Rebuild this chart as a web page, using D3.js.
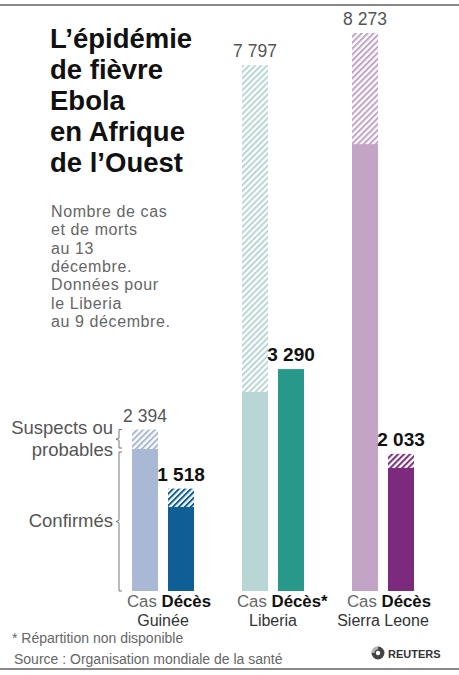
<!DOCTYPE html>
<html>
<head>
	<meta charset="utf-8">
	<title>Ebola en Afrique de l'Ouest</title>
	<style>
		body {
			margin: 0;
			background: white;
			font-family: 'Liberation Sans', Arial, sans-serif;
		}
		svg {
			display: block;
		}
	</style>
</head>
<body>
	<svg width='459' height='675'></svg>
<script src='https://d3js.org/d3.v7.min.js'></script>
<script>

	// data
	let countries = ['Guinée', 'Liberia', 'Sierra Leone']
	let casTotal = [2394, 7797, 8273]
	let casConfirmes = [2105, 2950, 6625]
	let decesTotal = [1518, 3290, 2033]
	let decesConfirmes = [1245, null, 1824]   // null = répartition non disponible
	let decesLabels = ['Décès', 'Décès*', 'Décès']

	let colorsCas = ['#a9b8d4', '#b8d6d4', '#c3a3c6']
	let colorsDeces = ['#0f5f94', '#27988a', '#7b2a7d']

	let width = 459
	let height = 675
	let baseline = 591

	let fr = d3.formatLocale({ decimal: ',', thousands: '\u00a0', grouping: [3], currency: ['', ' €'] })
	let fmt = fr.format(',d')

	let svg = d3.select('svg')

	// frame lines
	svg.append('rect').attr('x', 0).attr('y', 4).attr('width', width).attr('height', 2).style('fill', '#8a8a8a')
	svg.append('rect').attr('x', 0).attr('y', 668).attr('width', width).attr('height', 2).style('fill', '#8a8a8a')

	// hatch patterns
	let defs = svg.append('defs')
	let allColors = colorsCas.concat(colorsDeces)
	allColors.forEach((c, i) => {
		let p = defs.append('pattern')
			.attr('id', 'hatch' + i)
			.attr('patternUnits', 'userSpaceOnUse')
			.attr('width', 4.2)
			.attr('height', 4.2)
			.attr('patternTransform', 'rotate(45)')
		p.append('rect').attr('width', 4.2).attr('height', 4.2).style('fill', 'white')
		p.append('rect').attr('width', 2).attr('height', 4.2).style('fill', c)
	})

	// scales
	let y = d3.scaleLinear()
		.domain([0, d3.max(casTotal)])
		.range([baseline, 33])

	let x = d3.scaleBand()
		.domain(countries)
		.range([132, 462])

	let xInner = d3.scaleBand()
		.domain(['cas', 'deces'])
		.range([0, 62])
		.paddingInner(10 / 36)

	let bw = xInner.bandwidth()

	// title
	let title = ['L\u2019épidémie', 'de fièvre', 'Ebola', 'en Afrique', 'de l\u2019Ouest']
	svg.append('text')
		.attr('x', 50)
		.attr('y', 48)
		.style('font-size', '27.5px')
		.style('font-weight', 'bold')
		.style('fill', '#111')
		.selectAll('tspan')
		.data(title)
		.join('tspan')
		.attr('x', 50)
		.attr('dy', (d, i) => i == 0 ? 0 : 31.1)
		.text(d => d)

	let sub = ['Nombre de cas', 'et de morts', 'au 13', 'décembre.', 'Données pour', 'le Liberia', 'au 9 décembre.']
	svg.append('text')
		.attr('x', 51)
		.attr('y', 217)
		.style('font-size', '16px')
		.style('fill', '#666')
		.style('letter-spacing', '0.6px')
		.selectAll('tspan')
		.data(sub)
		.join('tspan')
		.attr('x', 51)
		.attr('dy', (d, i) => i == 0 ? 0 : 18.3)
		.text(d => d)

	// bars
	let groups = svg.append('g')
		.selectAll('.country')
		.data(countries)
		.join('g')
		.attr('class', 'country')
		.attr('transform', d => `translate(${x(d)},0)`)

	// cas: hatched total then solid confirmed
	groups.append('rect')
		.attr('x', xInner('cas'))
		.attr('width', bw)
		.attr('y', (d, i) => y(casTotal[i]))
		.attr('height', (d, i) => baseline - y(casTotal[i]))
		.style('fill', (d, i) => `url(#hatch${i})`)

	groups.append('rect')
		.attr('x', xInner('cas'))
		.attr('width', bw)
		.attr('y', (d, i) => y(casConfirmes[i]))
		.attr('height', (d, i) => baseline - y(casConfirmes[i]))
		.style('fill', (d, i) => colorsCas[i])

	// deces
	groups.append('rect')
		.attr('x', xInner('deces'))
		.attr('width', bw)
		.attr('y', (d, i) => y(decesTotal[i]))
		.attr('height', (d, i) => baseline - y(decesTotal[i]))
		.style('fill', (d, i) => decesConfirmes[i] == null ? colorsDeces[i] : `url(#hatch${i + 3})`)

	groups.append('rect')
		.attr('x', xInner('deces'))
		.attr('width', bw)
		.attr('y', (d, i) => decesConfirmes[i] == null ? baseline : y(decesConfirmes[i]))
		.attr('height', (d, i) => decesConfirmes[i] == null ? 0 : baseline - y(decesConfirmes[i]))
		.style('fill', (d, i) => colorsDeces[i])

	// value labels
	groups.append('text')
		.attr('x', xInner('cas') + bw / 2)
		.attr('y', (d, i) => y(casTotal[i]) - 8)
		.attr('text-anchor', 'middle')
		.style('font-size', '17.5px')
		.style('fill', '#555')
		.text((d, i) => fmt(casTotal[i]))

	groups.append('text')
		.attr('x', xInner('deces') + bw / 2)
		.attr('y', (d, i) => y(decesTotal[i]) - 8)
		.attr('text-anchor', 'middle')
		.style('font-size', '19px')
		.style('font-weight', 'bold')
		.style('fill', '#111')
		.text((d, i) => fmt(decesTotal[i]))

	// Cas / Décès labels
	let sublabel = groups.append('text')
		.attr('x', xInner('cas') - 5)
		.attr('y', 607)
		.style('font-size', '16.8px')
	sublabel.append('tspan')
		.style('fill', '#666')
		.text('Cas ')
	sublabel.append('tspan')
		.style('fill', '#111')
		.style('font-weight', 'bold')
		.text((d, i) => decesLabels[i])

	groups.append('text')
		.attr('x', 31)
		.attr('y', 626)
		.attr('text-anchor', 'middle')
		.style('font-size', '16px')
		.style('fill', '#333')
		.text(d => d)

	// legend brackets on the Guinée cas bar
	let bx = x(countries[0]) - 13
	let yTop = y(casTotal[0])
	let yMid = y(casConfirmes[0])
	let b1 = (yTop + yMid) / 2
	let b2 = (yMid + 3 + baseline) / 2

	let bracket = (y0, y1, ym) => `M${bx + 3},${y0}H${bx}V${ym - 1}L${bx - 3},${ym}L${bx},${ym + 1}V${y1}H${bx + 3}`

	svg.append('path')
		.attr('d', bracket(yTop, yMid - 1, b1))
		.style('fill', 'none')
		.style('stroke', '#777')
		.style('stroke-width', 1)

	svg.append('path')
		.attr('d', bracket(yMid + 3, baseline, b2))
		.style('fill', 'none')
		.style('stroke', '#777')
		.style('stroke-width', 1)

	svg.append('text')
		.attr('x', bx - 6)
		.attr('y', b1 - 5)
		.attr('text-anchor', 'end')
		.style('font-size', '18.5px')
		.style('fill', '#555')
		.selectAll('tspan')
		.data(['Suspects ou', 'probables'])
		.join('tspan')
		.attr('x', bx - 6)
		.attr('dy', (d, i) => i == 0 ? 0 : 21.5)
		.text(d => d)

	svg.append('text')
		.attr('x', bx - 6)
		.attr('y', b2 + 5)
		.attr('text-anchor', 'end')
		.style('font-size', '18.5px')
		.style('fill', '#555')
		.text('Confirmés')

	// footer
	svg.append('text')
		.attr('x', 12)
		.attr('y', 642.5)
		.style('font-size', '14px')
		.style('fill', '#666')
		.text('* Répartition non disponible')

	svg.append('text')
		.attr('x', 14)
		.attr('y', 663.5)
		.style('font-size', '14px')
		.style('fill', '#666')
		.text('Source : Organisation mondiale de la santé')

	// reuters mark
	let logo = svg.append('g').attr('transform', 'translate(378,653)')
	logo.append('circle').attr('r', 6.5).style('fill', '#444')
	logo.append('circle').attr('r', 2.2).style('fill', 'white')
	logo.append('path')
		.attr('d', 'M-6.5,0A6.5,6.5 0 0 1 0,-6.5L0,-3.5A3.5,3.5 0 0 0 -3.5,0Z')
		.style('fill', 'white')
		.style('opacity', 0.6)
	svg.append('text')
		.attr('x', 388)
		.attr('y', 657.5)
		.style('font-size', '11px')
		.style('font-weight', 'bold')
		.style('fill', '#333')
		.text('REUTERS')

</script>
</body>
</html>
